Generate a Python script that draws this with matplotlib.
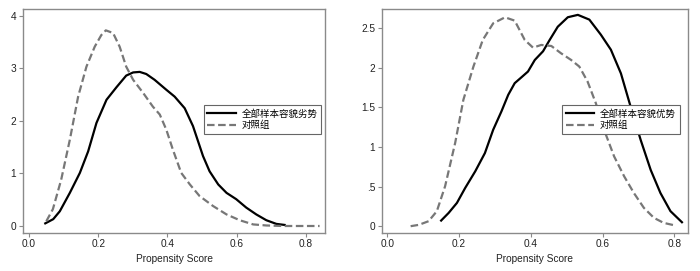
import numpy as np
import matplotlib.pyplot as plt

plt.rcParams['font.family'] = ['Liberation Sans', 'Noto Sans CJK SC', 'DejaVu Sans']

# 左图：容貌劣势
x_lie = [0.047, 0.070, 0.089, 0.118, 0.147, 0.171, 0.195, 0.224, 0.253, 0.281, 0.301, 0.320,
         0.339, 0.363, 0.397, 0.421, 0.450, 0.474, 0.503, 0.522, 0.547, 0.571, 0.599, 0.628,
         0.657, 0.686, 0.715, 0.739]
y_lie = [0.05, 0.13, 0.28, 0.63, 1.01, 1.42, 1.96, 2.40, 2.64, 2.86, 2.92, 2.93,
         2.89, 2.78, 2.59, 2.46, 2.24, 1.90, 1.33, 1.04, 0.79, 0.63, 0.51, 0.35,
         0.22, 0.11, 0.04, 0.02]
x_ctrl1 = [0.050, 0.069, 0.093, 0.118, 0.142, 0.166, 0.190, 0.209, 0.222, 0.243, 0.262, 0.281,
           0.301, 0.330, 0.358, 0.378, 0.397, 0.416, 0.440, 0.465, 0.493, 0.532, 0.571, 0.609,
           0.648, 0.686, 0.734, 0.840]
y_ctrl1 = [0.09, 0.32, 0.88, 1.64, 2.46, 3.03, 3.41, 3.63, 3.72, 3.67, 3.41, 3.03,
           2.78, 2.53, 2.27, 2.12, 1.83, 1.45, 1.01, 0.79, 0.57, 0.38, 0.22, 0.11,
           0.03, 0.01, 0.0, 0.0]

# 右图：容貌优势
x_you = [0.150, 0.171, 0.194, 0.217, 0.245, 0.272, 0.295, 0.318, 0.337, 0.355, 0.374, 0.392,
         0.411, 0.434, 0.452, 0.475, 0.503, 0.531, 0.563, 0.595, 0.623, 0.651, 0.678, 0.706,
         0.734, 0.761, 0.789, 0.821]
y_you = [0.071, 0.168, 0.294, 0.483, 0.693, 0.924, 1.218, 1.450, 1.660, 1.807, 1.882, 1.954,
         2.10, 2.21, 2.35, 2.52, 2.64, 2.67, 2.61, 2.42, 2.23, 1.93, 1.51, 1.09,
         0.71, 0.42, 0.19, 0.05]
x_ctrl2 = [0.065, 0.088, 0.115, 0.138, 0.161, 0.189, 0.212, 0.240, 0.266, 0.295, 0.328, 0.355,
           0.383, 0.406, 0.429, 0.457, 0.484, 0.512, 0.535, 0.558, 0.581, 0.604, 0.632, 0.660,
           0.687, 0.715, 0.743, 0.770, 0.803]
y_ctrl2 = [0.0, 0.017, 0.063, 0.189, 0.504, 1.050, 1.597, 2.017, 2.353, 2.563, 2.639, 2.597,
           2.353, 2.256, 2.290, 2.277, 2.185, 2.101, 2.017, 1.828, 1.555, 1.218, 0.882, 0.630,
           0.420, 0.231, 0.105, 0.042, 0.008]

x_ticks = [0.0, 0.2, 0.4, 0.6, 0.8]
x_ticklabels = ['0.0', '0.2', '0.4', '0.6', '0.8']
y_ticks1 = [0, 1, 2, 3, 4]
y_ticklabels1 = ['0', '1', '2', '3', '4']
y_ticks2 = [0, 0.5, 1, 1.5, 2, 2.5]
y_ticklabels2 = ['0', '.5', '1', '1.5', '2', '2.5']

fig = plt.figure(figsize=(7, 2.71), dpi=100)
ax1 = fig.add_axes([0.0329, 0.142, 0.4314, 0.8236])
ax2 = fig.add_axes([0.5457, 0.142, 0.4367, 0.8236])

frame = '#8a8a8a'


def style(ax, yt, ytl, xlim, ylim):
    ax.set_xlim(*xlim)
    ax.set_ylim(*ylim)
    ax.set_xticks(x_ticks)
    ax.set_xticklabels(x_ticklabels)
    ax.set_yticks(yt)
    ax.set_yticklabels(ytl)
    for s in ax.spines.values():
        s.set_color(frame)
        s.set_linewidth(1.0)
    ax.tick_params(direction='out', length=3, width=0.8, color=frame,
                   labelsize=7.3, pad=2, labelcolor='#222222')
    ax.set_xlabel('Propensity Score', fontsize=7.3, labelpad=3, color='#222222')


ax1.plot(x_lie, y_lie, color='black', lw=1.6, label='全部样本容貌劣势')
ax1.plot(x_ctrl1, y_ctrl1, color='#777777', lw=1.6, dashes=(3.4, 1.6), label='对照组')
style(ax1, y_ticks1, y_ticklabels1, (-0.0173, 0.8557), (-0.124, 4.12))

ax2.plot(x_you, y_you, color='black', lw=1.6, label='全部样本容貌优势')
ax2.plot(x_ctrl2, y_ctrl2, color='#777777', lw=1.6, dashes=(3.4, 1.6), label='对照组')
style(ax2, y_ticks2, y_ticklabels2, (-0.0148, 0.837), (-0.08, 2.74))

for ax, anchor in [(ax1, (0.291, 0.6125)), (ax2, (0.803, 0.6125))]:
    leg = ax.legend(loc='upper left', bbox_to_anchor=anchor, bbox_transform=fig.transFigure,
                    fancybox=False, framealpha=1, edgecolor='#666666',
                    prop={'family': ['Noto Sans CJK SC'], 'size': 6.8},
                    handlelength=3.0, handletextpad=0.6, borderpad=0.4,
                    labelspacing=0.2, borderaxespad=0)
    leg.get_frame().set_linewidth(0.8)

fig.savefig('out.png', dpi=100)
